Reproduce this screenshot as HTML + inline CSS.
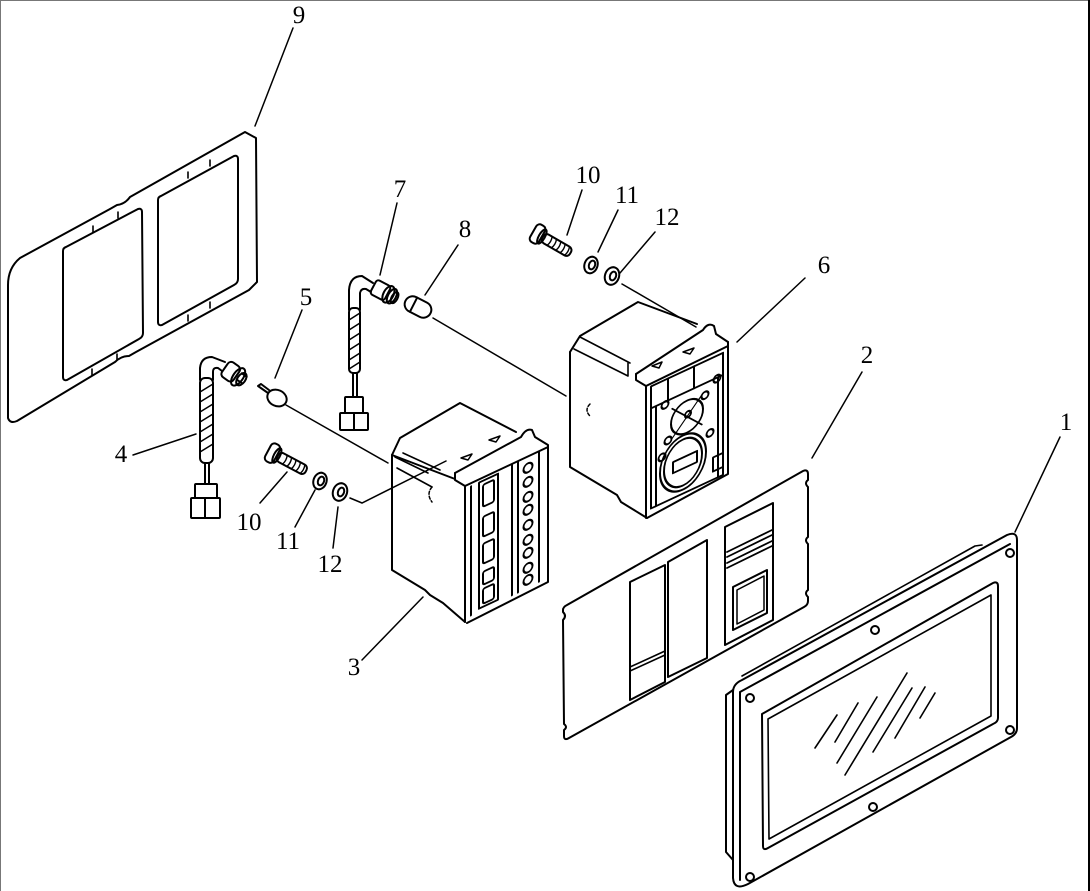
<!DOCTYPE html>
<html><head><meta charset="utf-8"><style>
html,body{margin:0;padding:0;background:#fff;}
svg{display:block;}
text{font-family:"Liberation Serif",serif;font-size:25px;fill:#000;}
</style></head><body>
<svg width="1090" height="891" viewBox="0 0 1090 891" xmlns="http://www.w3.org/2000/svg">
<rect x="0" y="0" width="1090" height="891" fill="#fff"/>
<line x1="0" y1="0.5" x2="1090" y2="0.5" stroke="#777" stroke-width="1"/>
<line x1="0.5" y1="0" x2="0.5" y2="891" stroke="#777" stroke-width="1"/>
<line x1="1089" y1="0" x2="1089" y2="891" stroke="#000" stroke-width="2"/>

<g fill="none" stroke="#000" stroke-width="2" stroke-linejoin="round" stroke-linecap="round">

<!-- Gasket 9 -->
<path d="M8,285 Q8,268 20,258 L110,209 L117,205 Q125,204 130,197 L245,132 L256,138 L257,282 L249,290 L136,352 L129,356 Q121,356 115,362 L17,421 Q10,424 8,418 Z"/>
<path d="M66,247 L138,209 Q142,208 142,212 L143,333 Q143,337 139,339 L67,380 Q63,381 63,377 L63,251 Q63,248 66,247 Z"/>
<path d="M161,196 L234,156 Q238,155 238,159 L238,279 Q238,283 234,285 L162,325 Q158,326 158,322 L158,200 Q158,197 161,196 Z"/>
<path d="M93,226 L93,232 M118,212 L118,218 M188,172 L188,178 M210,160 L210,166 M92,369 L92,375 M117,354 L117,360 M188,315 L188,321 M210,302 L210,308" stroke-width="1.6"/>

<!-- Wire 4 -->
<path d="M200,380 L200,368 Q201,357 212,357 L225,362 M213,380 L213,372 Q213,367 218,368 L222,371"/>
<g transform="translate(234,374) rotate(35)">
<rect x="-11" y="-9" width="14" height="18" rx="4"/>
<ellipse cx="5" cy="0" rx="5" ry="10"/>
<ellipse cx="9" cy="0" rx="4" ry="7"/>
<path d="M6,-5 L12,-5 M6,3 L12,3"/>
</g>
<rect x="200" y="378" width="13" height="85" rx="5"/>
<path d="M200,392 L213,384 M200,402 L213,394 M200,412 L213,404 M200,422 L213,414 M200,432 L213,424 M200,442 L213,434 M200,452 L213,444" stroke-width="1.6"/>
<path d="M205,463 L205,484 M209,463 L209,484"/>
<rect x="195" y="484" width="22" height="14" rx="1"/>
<rect x="191" y="498" width="29" height="20" rx="1"/>
<path d="M205,498 L205,518"/>

<!-- Wire 7 -->
<path d="M349,310 L349,290 Q350,276 362,276 L373,283 M360,310 L360,293 Q361,288 366,289 L371,292"/>
<g transform="translate(384,292) rotate(28)">
<rect x="-12" y="-8" width="16" height="16" rx="3"/>
<ellipse cx="5" cy="0" rx="5" ry="9"/>
<ellipse cx="9" cy="0" rx="4" ry="8"/>
<ellipse cx="12" cy="0" rx="3" ry="6"/>
</g>
<rect x="349" y="308" width="11" height="65" rx="4"/>
<path d="M349,320 L360,313 M349,330 L360,323 M349,340 L360,333 M349,350 L360,343 M349,360 L360,353 M349,369 L360,362" stroke-width="1.6"/>
<path d="M353,373 L353,397 M357,373 L357,397"/>
<rect x="345" y="397" width="18" height="16" rx="1"/>
<rect x="340" y="413" width="28" height="17" rx="1"/>
<path d="M354,413 L354,430"/>

<!-- Bulb 5 -->
<ellipse cx="277" cy="398" rx="10" ry="8" transform="rotate(25 277 398)"/>
<path d="M268,393 L258,386 L261,384 L269,390"/>

<!-- Bulb 8 -->
<g transform="translate(418,307) rotate(27)">
<rect x="-14" y="-8" width="28" height="16" rx="8"/>
<line x1="-5" y1="-8" x2="-5" y2="8"/>
</g>

<!-- Bolts / washers bottom -->
<g transform="translate(276,455) rotate(28)">
<rect x="-9" y="-10" width="10" height="20" rx="4"/>
<ellipse cx="1" cy="0" rx="3" ry="8"/>
<rect x="2" y="-5" width="32" height="10" rx="4"/>
<path d="M10,-5 Q12,0 10,5 M15,-5 Q17,0 15,5 M20,-5 Q22,0 20,5 M25,-5 Q27,0 25,5 M30,-5 Q32,0 30,5" stroke-width="1.4"/>
</g>
<ellipse cx="320" cy="481" rx="6.5" ry="8.5" transform="rotate(20 320 481)"/>
<ellipse cx="321" cy="481" rx="3" ry="4.5" transform="rotate(20 321 481)"/>
<ellipse cx="340" cy="492" rx="7" ry="9" transform="rotate(20 340 492)"/>
<ellipse cx="341" cy="492" rx="3" ry="4.5" transform="rotate(20 341 492)"/>

<!-- Bolts / washers top -->
<g transform="translate(541,236) rotate(30)">
<rect x="-9" y="-10" width="10" height="20" rx="4"/>
<ellipse cx="1" cy="0" rx="3" ry="8"/>
<rect x="2" y="-5" width="32" height="10" rx="4"/>
<path d="M10,-5 Q12,0 10,5 M15,-5 Q17,0 15,5 M20,-5 Q22,0 20,5 M25,-5 Q27,0 25,5 M30,-5 Q32,0 30,5" stroke-width="1.4"/>
</g>
<ellipse cx="591" cy="265" rx="6.5" ry="8.5" transform="rotate(20 591 265)"/>
<ellipse cx="592" cy="265" rx="3" ry="4.5" transform="rotate(20 592 265)"/>
<ellipse cx="612" cy="276" rx="7" ry="9" transform="rotate(20 612 276)"/>
<ellipse cx="613" cy="276" rx="3" ry="4.5" transform="rotate(20 613 276)"/>

<!-- Component 3 -->
<path d="M392,455 L400,438 L460,403 L516,432"/>
<path d="M392,455 L392,570 L425,590 L430,595 L443,603 L465,622"/>
<path d="M392,455 L455,479"/>
<path d="M395,457 L428,473 M397,468 L432,487 M403,453 L440,470" stroke-width="1.6"/>
<path d="M432,487 Q426,494 432,502" stroke-dasharray="3,2" stroke-width="1.5"/>
<path d="M455,473 L521,437 Q526,428 532,430 L535,437 L548,445 L548,582 L467,623"/>
<path d="M455,473 L455,480 L465,486 L548,447"/>
<path d="M465,486 L465,622"/>
<path d="M461,458 L472,454 L468,460 Z M489,440 L500,436 L496,442 Z" stroke-width="1.5"/>
<g transform="skewY(-25)">
<line x1="471" y1="706" x2="471" y2="835"/>
<rect x="479" y="706" width="19" height="126"/>
<line x1="512" y1="704" x2="512" y2="834"/>
<line x1="518" y1="704" x2="518" y2="834"/>
<line x1="539" y1="703" x2="539" y2="833"/>
<rect x="483" y="710" width="11" height="22" rx="2"/>
<rect x="483" y="742" width="11" height="20" rx="2"/>
<rect x="483" y="769" width="11" height="20" rx="2"/>
<rect x="483" y="797" width="11" height="13" rx="2"/>
<rect x="483" y="814" width="11" height="15" rx="2"/>
<circle cx="528" cy="714" r="4.5"/>
<circle cx="528" cy="728" r="4.5"/>
<circle cx="528" cy="743" r="4.5"/>
<circle cx="528" cy="756" r="4.5"/>
<circle cx="528" cy="771" r="4.5"/>
<circle cx="528" cy="786" r="4.5"/>
<circle cx="528" cy="799" r="4.5"/>
<circle cx="528" cy="814" r="4.5"/>
<circle cx="528" cy="826" r="4.5"/>
</g>

<!-- Component 6 -->
<path d="M570,352 L580,336 L638,302 L697,324"/>
<path d="M570,352 L570,467 L617,495 L621,502 L647,518"/>
<path d="M580,337 L630,363 M574,349 L628,376 M628,363 L628,376" stroke-width="1.6"/>
<path d="M590,404 Q584,410 590,416" stroke-dasharray="3,2" stroke-width="1.5"/>
<path d="M636,374 L703,330 Q708,322 714,326 L716,334 L728,342"/>
<path d="M636,374 L636,380 L646,386 L728,346"/>
<path d="M646,386 L646,518 M728,342 L728,474 L647,518"/>
<path d="M652,366 L662,362 L659,368 Z M683,352 L694,348 L690,354 Z" stroke-width="1.5"/>
<g transform="skewY(-25)">
<rect x="651" y="690" width="72" height="122"/>
<line x1="651" y1="712" x2="723" y2="712"/>
<line x1="668" y1="690" x2="668" y2="712"/>
<line x1="694" y1="690" x2="694" y2="712"/>
<circle cx="687" cy="737" r="16"/>
<circle cx="688" cy="735" r="3"/>
<circle cx="665" cy="715" r="3.5"/>
<circle cx="705" cy="724" r="3.5"/>
<circle cx="710" cy="764" r="3.5"/>
<circle cx="668" cy="752" r="3.5"/>
<circle cx="717" cy="713" r="3.5"/>
<circle cx="662" cy="766" r="3.5"/>
<path d="M672,722 L702,752 M702,722 L672,752" stroke-width="1.4"/>
<ellipse cx="683" cy="781" rx="23" ry="27"/>
<ellipse cx="683" cy="781" rx="19" ry="23"/>
<rect x="673" y="776" width="24" height="11"/>
<rect x="713" y="790" width="10" height="14"/>
<line x1="656" y1="712" x2="656" y2="812"/>
<line x1="718" y1="712" x2="718" y2="812"/>
</g>

<!-- Panel 2 -->
<path d="M567,605 L803,471 Q808,469 808,474 L808,480 Q804,483 808,487 L808,537 Q804,540 808,544 L808,590 Q804,593 808,597 L808,601 Q808,605 804,607 L569,738 Q564,741 564,736 L564,730 Q568,727 564,724 L563,620 Q567,616 563,612 L563,610 Q563,607 567,605 Z"/>
<path d="M630,582 L665,565 L665,682 L630,700 Z"/>
<path d="M630,667 L665,651 M630,671 L665,655" stroke-width="1.6"/>
<path d="M668,562 L707,540 L707,658 L668,677 Z"/>
<path d="M725,527 L773,503 L773,620 L725,645 Z"/>
<path d="M727,552 L772,530 M727,557 L772,535 M727,563 L772,541 M727,568 L772,546" stroke-width="1.8"/>
<path d="M733,587 L767,570 L767,613 L733,630 Z"/>
<path d="M737,590 L764,576 L764,610 L737,624 Z" stroke-width="1.5"/>

<!-- Panel 1 -->
<path d="M733,692 Q733,684 742,680 L1007,535 Q1017,531 1017,540 L1017,728 Q1017,734 1011,737 L748,884 Q734,891 733,878 Z"/>
<path d="M740,692 L1010,544 M740,692 L740,880"/>
<path d="M733,690 L726,695 L726,852 L733,860"/>
<path d="M742,676 L975,546 L982,545" stroke-width="1.6"/>
<path d="M762,714 L993,583 Q998,581 998,586 L998,718 Q998,722 993,724 L768,848 Q763,851 763,846 Z"/>
<path d="M768,719 L991,595 L991,716 L769,839 Z" stroke-width="1.6"/>
<circle cx="750" cy="698" r="4"/>
<circle cx="1010" cy="553" r="4"/>
<circle cx="875" cy="630" r="4"/>
<circle cx="1010" cy="730" r="4"/>
<circle cx="873" cy="807" r="4"/>
<circle cx="750" cy="877" r="4"/>
<path d="M815,748 L837,715 M835,742 L858,703 M837,763 L877,697 M845,775 L907,673 M873,752 L912,688 M895,738 L925,687 M920,718 L935,693" stroke-width="1.6"/>

</g>

<!-- assembly lines and leaders -->
<g fill="none" stroke="#000" stroke-width="1.5" stroke-linecap="round">
<path d="M286,405 L388,463"/>
<path d="M350,498 L362,503 L446,461"/>
<path d="M433,318 L566,396"/>
<path d="M622,284 L696,327"/>
<path d="M255,126 L293,28"/>
<path d="M397,203 L380,275"/>
<path d="M458,245 L425,295"/>
<path d="M302,310 L275,378"/>
<path d="M133,455 L196,434"/>
<path d="M287,472 L260,503"/>
<path d="M315,490 L295,527"/>
<path d="M338,507 L333,548"/>
<path d="M582,190 L567,235"/>
<path d="M618,210 L598,252"/>
<path d="M655,232 L620,273"/>
<path d="M737,342 L805,278"/>
<path d="M862,372 L812,458"/>
<path d="M1060,437 L1015,532"/>
<path d="M423,597 L362,660"/>
</g>

<g text-anchor="middle">
<text x="299" y="23">9</text>
<text x="400" y="197">7</text>
<text x="465" y="237">8</text>
<text x="306" y="305">5</text>
<text x="588" y="183">10</text>
<text x="627" y="203">11</text>
<text x="667" y="225">12</text>
<text x="824" y="273">6</text>
<text x="867" y="363">2</text>
<text x="1066" y="430">1</text>
<text x="121" y="462">4</text>
<text x="249" y="530">10</text>
<text x="288" y="549">11</text>
<text x="330" y="572">12</text>
<text x="354" y="675">3</text>
</g>
</svg>
</body></html>
